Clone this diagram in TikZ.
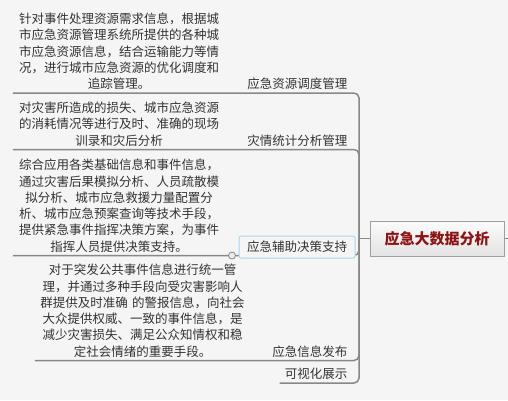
\documentclass[tikz,border=0pt]{standalone}
\usepackage{fontspec}
\newfontfamily\cjk{Noto Sans CJK SC}
\usetikzlibrary{backgrounds}
\definecolor{bg}{RGB}{245,245,245}
\definecolor{wire}{RGB}{136,136,136}
\definecolor{ink}{RGB}{51,51,51}
\definecolor{hot}{RGB}{140,20,20}
\definecolor{glow}{RGB}{168,214,240}
\tikzset{
	link/.style={wire,line width=1.5pt,rounded corners=5pt},
	note/.style={anchor=south,align=center,text width=202pt,inner xsep=5pt,inner ysep=3pt,text=ink,font=\cjk\fontsize{12.5}{16.3}\selectfont},
	topic/.style={anchor=south east,inner xsep=5pt,inner ysep=3pt,text=ink,font=\cjk\fontsize{12.5}{15}\selectfont},
	focus/.style={anchor=center,draw=glow,line width=1pt,fill=bg,rounded corners=2pt,inner xsep=8pt,minimum height=22pt},
	knob/.style={circle,draw=wire,fill=gray!15,line width=0.8pt,minimum size=7pt,inner sep=0pt},
	root/.style={draw=gray!75,line width=1pt,top color=gray!3,bottom color=gray!22,minimum width=134pt,minimum height=35pt,text=hot,font=\cjk\bfseries\fontsize{15}{15}\selectfont}
}

\begin{document}
\begin{tikzpicture}[x=1pt,y=-1pt]
	\useasboundingbox (0,0) rectangle (508,400);
	\coordinate (fork) at (359,238.5);
	\coordinate (out) at (514,238.5);
	
	\node[root] (cen) at (437,238.5) {应急大数据分析};
	
	\node[note] (resnote) at (119,93) {针对事件处理资源需求信息，根据城\\市应急资源管理系统所提供的各种城\\市应急资源信息，结合运输能力等情\\况，进行城市应急资源的优化调度和\\追踪管理。};
	\node[note] (stanote) at (119,149.5) {对灾害所造成的损失、城市应急资源\\的消耗情况等进行及时、准确的现场\\训录和灾后分析};
	\node[note] (decnote) at (119,255.5) {综合应用各类基础信息和事件信息，\\通过灾害后果模拟分析、人员疏散模\\拟分析、城市应急救援力量配置分\\析、城市应急预案查询等技术手段，\\提供紧急事件指挥决策方案，为事件\\指挥人员提供决策支持。};
	\node[note,text width=205pt] (pubnote) at (142.5,360.5) {对于突发公共事件信息进行统一管\\理，并通过多种手段向受灾害影响人\\群提供及时准确 的警报信息，向社会\\大众提供权威、一致的事件信息，是\\减少灾害损失、满足公众知情权和稳\\定社会情绪的重要手段。};
	
	\node[topic] (res) at (352.5,93) {应急资源调度管理};
	\node[topic] (sta) at (352.5,149.5) {灾情统计分析管理};
	\node[topic,focus] (dec) at (297,247) {应急辅助决策支持};
	\node[topic] (pub) at (352.5,360.5) {应急信息发布};
	\node[topic] (vis) at (352.5,383) {可视化展示};
	
	\begin{scope}[on background layer]
		\fill[bg] (0,0) rectangle (508,400);
		\draw[link] (cen.west) -- (fork);
		\draw[link] (cen.east) -- (out);
		\draw[link] (fork) |- (resnote.south west);
		\draw[link] (fork) |- (stanote.south west);
		\draw[link] (fork) |- (decnote.south west);
		\draw[link] (fork) |- (pubnote.south west);
		\draw[link] (fork) |- (vis.south west);
	\end{scope}
	
	\node[knob] (fold) at (232,255.5) {};
\end{tikzpicture}
\end{document}
